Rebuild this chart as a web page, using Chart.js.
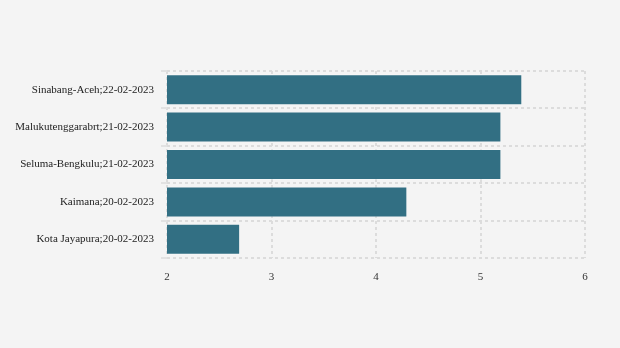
<!DOCTYPE html>
<html>
<head>
<meta charset="utf-8">
<script src="https://cdn.jsdelivr.net/npm/chart.js@4/dist/chart.umd.min.js"></script>
<style>
    html, body { margin: 0; padding: 0; background: #f4f4f4; }
    #wrap { width: 620px; height: 348px; }
</style>
</head>
<body>
<div id="wrap"><canvas id="quake_chart" width="620" height="348"></canvas></div>
<script>
// locations with the date of the event
const locations = [
    "Sinabang-Aceh;22-02-2023",
    "Malukutenggarabrt;21-02-2023",
    "Seluma-Bengkulu;21-02-2023",
    "Kaimana;20-02-2023",
    "Kota Jayapura;20-02-2023"
];
// magnitude values
const magnitudes = [5.4, 5.2, 5.2, 4.3, 2.7];
const xTicks = [2, 3, 4, 5, 6];

const gridColor = "#dcdcdc";

new Chart("quake_chart", {
    type: "bar",
    data: {
        labels: locations,
        datasets: [{
            data: magnitudes,
            backgroundColor: "#326f83",
            borderColor: "rgba(255,255,255,0.3)",
            borderWidth: 1,
            barPercentage: 0.83,
            categoryPercentage: 1.0
        }]
    },
    options: {
        indexAxis: "y",
        responsive: false,
        animation: false,
        layout: { padding: { top: 71, right: 35, bottom: 0, left: 0 } },
        plugins: {
            legend: { display: false },
            tooltip: { enabled: false }
        },
        scales: {
            x: {
                min: 2,
                max: 6,
                afterBuildTicks: (axis) => {
                    axis.ticks = xTicks.map(v => ({ value: v }));
                },
                afterFit: (axis) => { axis.height = 90; },
                grid: {
                    color: gridColor,
                    lineWidth: 2,
                    drawTicks: false
                },
                // dashed grid lines, no solid axis line
                border: { display: false, dash: [3, 3] },
                ticks: {
                    padding: 13,
                    color: "#333",
                    font: { family: "Liberation Serif", size: 11 }
                }
            },
            y: {
                afterFit: (axis) => { axis.width = 167; },
                grid: {
                    offset: true,
                    color: gridColor,
                    lineWidth: 2,
                    tickLength: 6,
                    tickColor: "#e2e2e2"
                },
                border: { display: false, dash: [3, 3] },
                ticks: {
                    padding: 7,
                    color: "#222",
                    font: { family: "Liberation Serif", size: 11 }
                }
            }
        }
    }
});
</script>
</body>
</html>
